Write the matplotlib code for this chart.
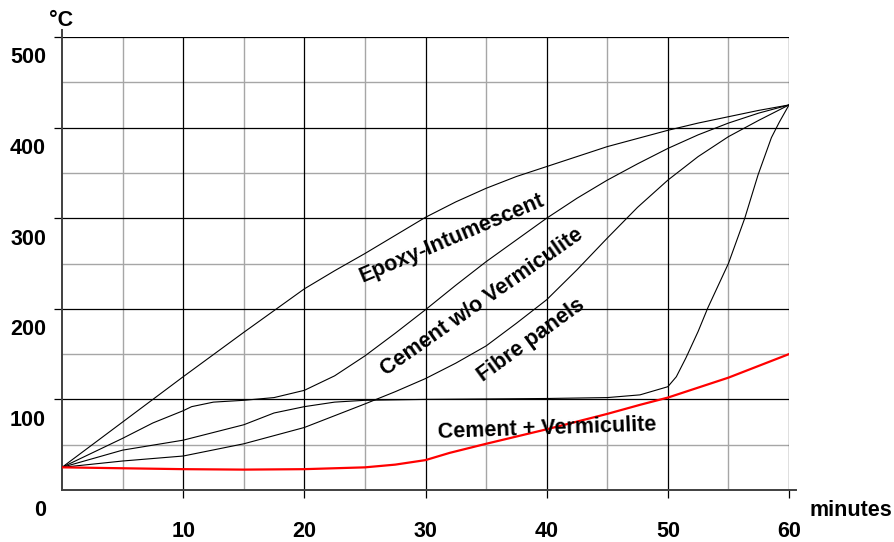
import matplotlib

matplotlib.use("Agg")
import matplotlib.pyplot as plt

# readings (minutes, deg C)
epoxy_t = [0, 5, 10, 15, 20, 22.5, 25, 27.5, 30, 32.5, 35, 37.5, 40, 42.5, 45, 47.5, 50,
           52.5, 55, 57.5, 60]
epoxy_v = [25, 75, 125, 174, 222, 242, 261, 281, 301, 318, 333, 346, 357, 368, 379, 388, 397,
           405, 412, 419, 425]

cement_wo_t = [0, 5, 7.5, 10, 10.7, 12.5, 15, 17.5, 20, 22.5, 25, 27.5, 30, 32.5, 35, 37.5,
               40, 42.5, 45, 47.5, 50, 52.5, 55, 57.5, 60]
cement_wo_v = [25, 57, 74, 87.5, 92, 97, 99, 102, 110, 126, 148, 173, 199, 226, 252, 276,
               300, 322, 342, 360, 377, 392, 405, 416, 425]

fibre_t = [0, 5, 10, 15, 17.5, 20, 25, 27.5, 30, 32.5, 35, 37.5, 40, 42.5, 45, 47.5, 50, 52.5,
           55, 57.5, 60]
fibre_v = [25, 32, 37.5, 51, 60, 69, 95, 108.5, 123, 140, 159, 184, 210, 243, 278, 312, 342, 368,
           390, 408, 425]

cement_verm_t = [0, 5, 10, 15, 17.5, 20, 22.5, 25, 30, 35, 40, 45, 47.7, 50, 50.7, 51.5,
                 52.5, 53.3, 55, 56.35, 57.45, 58.55, 59.2, 60]
cement_verm_v = [25, 44, 55, 72, 85, 92, 97, 99, 100, 100.5, 101, 102, 105, 114, 125, 146,
                 175, 201, 250, 300, 348, 389, 406, 425]

red_t = [0, 5, 10, 15, 20, 25, 27.5, 30, 32, 35, 40, 45, 47.7, 50, 55, 60]
red_v = [25, 24, 23, 22.5, 23, 25, 28, 33, 41, 51, 67, 84, 94, 102, 124, 150]

x_major = [10, 20, 30, 40, 50, 60]
x_minor = [5, 15, 25, 35, 45, 55]
y_major = [100, 200, 300, 400, 500]
y_minor = [50, 150, 250, 350, 450]
y_labels = [0, 100, 200, 300, 400, 500]

labels = [
    ("Epoxy-Intumescent", 32.2, 278, 23),
    ("Cement w/o Vermiculite", 34.65, 207, 35),
    ("Fibre panels", 38.7, 165, 36),
    ("Cement + Vermiculite", 40.06, 68, 2),
]

plt.rcParams.update({"font.family": ["Liberation Sans", "DejaVu Sans"], "font.weight": "bold"})

fig = plt.figure(figsize=(8.94, 5.42), dpi=100)
ax = fig.add_axes([62 / 894, 52 / 542, 727 / 894, 453 / 542])
ax.set_xlim(0, 60)
ax.set_ylim(0, 500)
for side in ax.spines.values():
    side.set_visible(False)

for v in x_minor:
    ax.axvline(v, color="#a6a6a6", linewidth=1.0, zorder=1)
for v in y_minor:
    ax.axhline(v, color="#a6a6a6", linewidth=1.0, zorder=1)
for v in x_major:
    ax.axvline(v, color="black", linewidth=0.9, zorder=1.5)
for v in y_major:
    ax.axhline(v, color="black", linewidth=0.9, zorder=1.5)

# axis lines, running a little past the plot area
ax.plot([0, 0], [0, 508], color="#404040", linewidth=1.4, clip_on=False, zorder=2)
ax.plot([0, 60.6], [0, 0], color="#404040", linewidth=1.4, clip_on=False, zorder=2)

ax.set_xticks(x_major, [str(v) for v in x_major])
ax.set_yticks(y_major, [""] * len(y_major))
ax.tick_params(axis="both", direction="out", length=5.5, width=0.9, color="black")
ax.tick_params(axis="x", pad=17, labelsize=15.5)
for t in ax.get_xticklabels():
    t.set_fontweight("bold")

for v in y_labels:
    ax.text(-1.32, v - 23, str(v), ha="right", va="center", fontsize=15.5, fontweight="bold", clip_on=False)

ax.plot(epoxy_t, epoxy_v, color="black", linewidth=0.8, zorder=3)
ax.plot(cement_wo_t, cement_wo_v, color="black", linewidth=0.8, zorder=3)
ax.plot(fibre_t, fibre_v, color="black", linewidth=0.8, zorder=3)
ax.plot(cement_verm_t, cement_verm_v, color="black", linewidth=0.8, zorder=3)
ax.plot(red_t, red_v, color="#ff0000", linewidth=1.6, zorder=4)

for text, x, y, rot in labels:
    ax.text(x, y, text, rotation=rot, rotation_mode="anchor", ha="center", va="center",
            fontsize=15.5, fontweight="bold", zorder=5)

fig.text(61 / 894, 1 - 20 / 542, "°C", ha="center", va="center", fontsize=15.5, fontweight="bold")
fig.text(851 / 894, 1 - 510 / 542, "minutes", ha="center", va="center", fontsize=15.5, fontweight="bold")

fig.savefig("out.png", dpi=100)
